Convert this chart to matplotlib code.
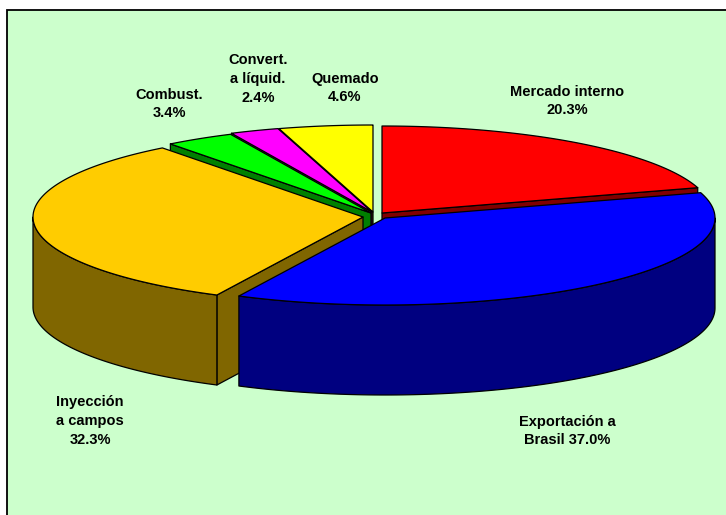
import numpy as np
import matplotlib
matplotlib.use('Agg')
import matplotlib.pyplot as plt
from matplotlib.patches import Rectangle

# Datos
names = ['Mercado interno', 'Exportación a\nBrasil', 'Inyección\na campos',
         'Combust.', 'Convert.\na líquid.', 'Quemado']
values = [20.3, 37.0, 32.3, 3.4, 2.4, 4.6]

# Colores: cara superior y lados
top_colors = ['#FF0000', '#0000FF', '#FFCC00', '#00FF00', '#FF00FF', '#FFFF00']
side_colors = ['#800000', '#000080', '#806600', '#008000', '#800080', '#808000']

# Geometria en pixeles
rx = 330
ry = 87
depth = 90
apex_x = [382, 385, 363, 371, 372, 373]
apex_y = [213, 218, 217, 213, 212, 212]
label_x = [567, 567, 90, 169, 258, 345]
label_y = [101, 431, 421, 104, 79, 88]
draw_order = [0, 5, 4, 3, 2, 1]

fig = plt.figure(figsize=(7.26, 5.15), dpi=100)
ax = fig.add_axes([0, 0, 1, 1])
ax.set_xlim(0, 726)
ax.set_ylim(515, 0)
ax.axis('off')
ax.add_patch(Rectangle((7, 10), 730, 520, facecolor='#CCFFCC', edgecolor='black', linewidth=1.3))

# Angulos desde las 12 en sentido horario
edges = np.concatenate([[0], np.cumsum(values)]) / sum(values) * 2 * np.pi


def arc(i, a, b):
    t = np.linspace(a, b, 120)
    return apex_x[i] + rx * np.sin(t), apex_y[i] - ry * np.cos(t)


for i in draw_order:
    a, b = edges[i], edges[i + 1]
    x, y = arc(i, a, b)
    kw = dict(edgecolor='black', linewidth=0.9, joinstyle='round')

    # cara radial visible
    faces = []
    if a >= np.pi:
        faces = [0]
    elif b <= np.pi:
        faces = [-1]
    for k in faces:
        ax.fill([apex_x[i], x[k], x[k], apex_x[i]],
                [apex_y[i], y[k], y[k] + depth, apex_y[i] + depth],
                facecolor=side_colors[i], **kw)

    # borde exterior visible (mitad delantera)
    lo, hi = max(a, np.pi / 2), min(b, 3 * np.pi / 2)
    if lo < hi:
        xs, ys = arc(i, lo, hi)
        ax.fill(np.concatenate([xs, xs[::-1]]), np.concatenate([ys, ys[::-1] + depth]),
                facecolor=side_colors[i], **kw)

    # cara superior
    ax.fill(np.concatenate([[apex_x[i]], x]), np.concatenate([[apex_y[i]], y]),
            facecolor=top_colors[i], **kw)

for i in range(len(values)):
    ax.text(label_x[i], label_y[i], f'{names[i]}\n{values[i]:.1f}%'.replace('Brasil\n', 'Brasil '),
            ha='center', va='center', fontsize=10.5, fontweight='bold',
            family='Liberation Sans', linespacing=1.45)

fig.savefig('out.png', dpi=100)
